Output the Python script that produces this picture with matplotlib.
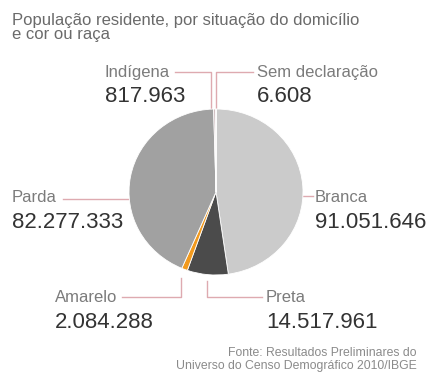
import matplotlib.pyplot as plt

plt.rcParams['font.family'] = ['Liberation Sans', 'DejaVu Sans']

# dados do censo 2010 (ordem horaria a partir do topo)
categorias = ['Branca', 'Preta', 'Amarelo', 'Parda', 'Indígena', 'Sem declaração']
valores = [91051646, 14517961, 2084288, 82277333, 817963, 6608]
cores = ['#cbcbcb', '#4b4b4b', '#f29a1e', '#a1a1a1', '#c9b5b8', '#d9a9ae']
rotulos = ['91.051.646', '14.517.961', '2.084.288', '82.277.333', '817.963', '6.608']

W, H = 428, 376
fig = plt.figure(figsize=(W / 100, H / 100), dpi=100)

# camada de fundo em pixels para textos e linhas
bg = fig.add_axes([0, 0, 1, 1])
bg.set_xlim(0, W)
bg.set_ylim(H, 0)
bg.axis('off')

# pizza
cx, cy, rx, ry = 216, 192, 87, 83
pax = fig.add_axes([(cx - rx) / W, (H - cy - ry) / H, 2 * rx / W, 2 * ry / H])
pax.pie(valores, colors=cores, startangle=90, counterclock=False,
        wedgeprops=dict(edgecolor='white', linewidth=0.6))
pax.set_aspect('auto')
pax.set_xlim(-1, 1)
pax.set_ylim(-1, 1)
pax.axis('off')

lc = '#deaab0'
lw = 1.0
cinza = '#7b7b7b'
escuro = '#333333'

# titulo
bg.text(12, 20, 'População residente, por situação do domicílio', fontsize=12,
        color='#6a6a6a', va='center')
bg.text(12, 35, 'e cor ou raça', fontsize=12, color='#6a6a6a', va='center')

# linhas de chamada
bg.plot([175, 211, 211], [72, 72, 109], color=lc, lw=lw)
bg.plot([253, 216, 216], [72, 72, 109], color=lc, lw=lw)
bg.plot([63, 130], [199, 199], color=lc, lw=lw)
bg.plot([303, 313], [196, 196], color=lc, lw=lw)
bg.plot([122, 181, 181], [297, 297, 278], color=lc, lw=lw)
bg.plot([262, 207, 207], [297, 297, 281], color=lc, lw=lw)

# posicao do nome de cada categoria
pos = {
    'Indígena': (105, 72),
    'Sem declaração': (257, 72),
    'Parda': (12, 197),
    'Branca': (315, 197),
    'Amarelo': (55, 297),
    'Preta': (266, 297),
}
for nome, rot in zip(categorias, rotulos):
    x, y = pos[nome]
    bg.text(x, y, nome, fontsize=12, color=cinza, va='center')
    bg.text(x, y + 25, rot, fontsize=16, color=escuro, va='center')

# fonte
bg.text(417, 353, 'Fonte: Resultados Preliminares do', fontsize=8.8,
        color='#8a8a8a', ha='right', va='center')
bg.text(417, 366, 'Universo do Censo Demográfico 2010/IBGE', fontsize=8.8,
        color='#8a8a8a', ha='right', va='center')

fig.savefig('out.png', dpi=100, facecolor='white')
